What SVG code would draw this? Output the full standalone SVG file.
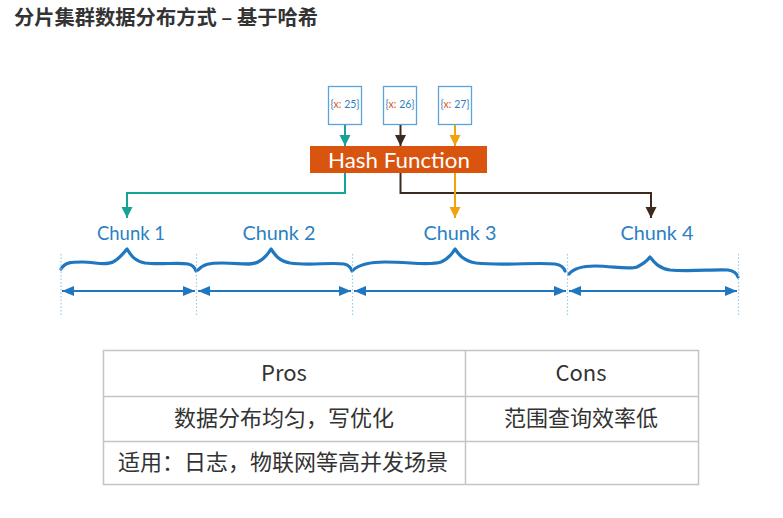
<svg xmlns="http://www.w3.org/2000/svg" width="783" height="518" viewBox="0 0 783 518">
<style>
.title{font-family:"Noto Sans CJK SC","Noto Sans",sans-serif;font-weight:bold;font-size:20px;fill:#333}
.val{font-family:"Lato","Open Sans",sans-serif;font-size:10.5px;fill:#2c7fc2;text-anchor:middle}
.vx{fill:#e2541c}
.vbox{fill:#fff;stroke:#5ba3dc;stroke-width:1.3}
.hash{fill:#d9540f}
.htxt{font-family:"Lato","Open Sans",sans-serif;font-size:22px;fill:#fff;text-anchor:middle}
.chunk{font-family:"Lato","Open Sans",sans-serif;font-size:19px;fill:#2c7fc2;text-anchor:middle}
.brace{fill:none;stroke:#1f77c0;stroke-width:3.2;stroke-linecap:round;stroke-linejoin:round}
.dot{stroke:#9cc8ea;stroke-width:1.2;stroke-dasharray:1.5 2}
.span{stroke:#1f77c0;stroke-width:2;fill:none}
.conn{fill:none;stroke-width:2}
.tbl{fill:none;stroke:#c4c4c4;stroke-width:1.5}
.tt{font-family:"Noto Sans CJK SC","Noto Sans",sans-serif;font-size:22px;fill:#333;text-anchor:middle}
</style>
<defs>
<marker id="aTeal" markerUnits="userSpaceOnUse" markerWidth="12" markerHeight="12" viewBox="0 0 12 12" refX="11" refY="6" orient="auto"><path d="M0,0.5 L11,6 L0,11.5 Z" fill="#17a398"/></marker>
<marker id="aBrown" markerUnits="userSpaceOnUse" markerWidth="12" markerHeight="12" viewBox="0 0 12 12" refX="11" refY="6" orient="auto"><path d="M0,0.5 L11,6 L0,11.5 Z" fill="#3d2a1e"/></marker>
<marker id="aOrange" markerUnits="userSpaceOnUse" markerWidth="12" markerHeight="12" viewBox="0 0 12 12" refX="11" refY="6" orient="auto"><path d="M0,0.5 L11,6 L0,11.5 Z" fill="#f0a30a"/></marker>
<marker id="aBlueE" markerUnits="userSpaceOnUse" markerWidth="12" markerHeight="12" viewBox="0 0 12 12" refX="12" refY="6" orient="auto"><path d="M0,1 L12,6 L0,11 Z" fill="#1f77c0"/></marker>
<marker id="aBlueS" markerUnits="userSpaceOnUse" markerWidth="12" markerHeight="12" viewBox="0 0 12 12" refX="0" refY="6" orient="auto"><path d="M12,1 L0,6 L12,11 Z" fill="#1f77c0"/></marker>
</defs>

<text class="title" x="14" y="25" textLength="304" lengthAdjust="spacingAndGlyphs">分片集群数据分布方式 – 基于哈希</text>

<g id="val25"><rect class="vbox" x="328.5" y="86.5" width="33" height="38"/><text class="val" x="345" y="107.5">{<tspan class="vx">x:</tspan> 25}</text></g>
<g id="val26"><rect class="vbox" x="383.5" y="86.5" width="33" height="38"/><text class="val" x="400" y="107.5">{<tspan class="vx">x:</tspan> 26}</text></g>
<g id="val27"><rect class="vbox" x="438.5" y="86.5" width="33" height="38"/><text class="val" x="455" y="107.5">{<tspan class="vx">x:</tspan> 27}</text></g>

<g id="hash"><rect class="hash" x="310" y="146" width="177" height="27"/><text class="htxt" x="399" y="167.5" textLength="142" lengthAdjust="spacingAndGlyphs">Hash Function</text></g>

<g id="connectors">
<path class="conn" stroke="#17a398" d="M345,125 V146" marker-end="url(#aTeal)"/>
<path class="conn" stroke="#3d2a1e" d="M400.5,125 V146" marker-end="url(#aBrown)"/>
<path class="conn" stroke="#f0a30a" d="M455,125 V146" marker-end="url(#aOrange)"/>
<path class="conn" stroke="#17a398" d="M345,173 V193 H127 V218" marker-end="url(#aTeal)"/>
<path class="conn" stroke="#3d2a1e" d="M400.5,173 V193 H651 V218" marker-end="url(#aBrown)"/>
<path class="conn" stroke="#f0a30a" d="M455,173 V218" marker-end="url(#aOrange)"/>
</g>

<g id="chunk1"><text class="chunk" x="131" y="240" textLength="68" lengthAdjust="spacingAndGlyphs">Chunk 1</text>
<path class="brace" d="M61,269 C65,262 72,262 82,262 C95,262 105,266 113,262 C119,259 123,254 127,249 C131,255 134,261 145,263 C160,265 178,262 188,264 C193,265 195,268 196,271"/></g>
<g id="chunk2"><text class="chunk" x="279" y="240" textLength="73" lengthAdjust="spacingAndGlyphs">Chunk 2</text>
<path class="brace" d="M198,270 C203,264 210,263 222,263 C240,263 250,266 258,262 C264,259 268,254 271,249 C275,255 279,261 290,263 C310,266 330,262 344,264 C349,265 351,268 352,271"/></g>
<g id="chunk3"><text class="chunk" x="460" y="240" textLength="73" lengthAdjust="spacingAndGlyphs">Chunk 3</text>
<path class="brace" d="M353,270 C360,264 370,262 385,262 C410,262 430,266 441,262 C448,259 452,254 455,249 C459,255 464,261 476,263 C505,266 535,262 555,264 C561,265 564,268 565,271"/></g>
<g id="chunk4"><text class="chunk" x="657" y="240" textLength="73" lengthAdjust="spacingAndGlyphs">Chunk 4</text>
<path class="brace" d="M569,274 C574,268 582,266 595,266 C612,266 628,270 637,267 C643,264 647,261 650,257 C654,262 658,268 670,270 C690,272 715,269 728,270 C734,271 737,274 738,277"/></g>

<g id="spans">
<line class="dot" x1="61" y1="254" x2="61" y2="316"/>
<line class="dot" x1="196.5" y1="254" x2="196.5" y2="316"/>
<line class="dot" x1="352.5" y1="254" x2="352.5" y2="316"/>
<line class="dot" x1="567.5" y1="254" x2="567.5" y2="316"/>
<line class="dot" x1="738.5" y1="254" x2="738.5" y2="316"/>
<line class="span" x1="62" y1="291" x2="195" y2="291" marker-start="url(#aBlueS)" marker-end="url(#aBlueE)"/>
<line class="span" x1="198" y1="291" x2="351" y2="291" marker-start="url(#aBlueS)" marker-end="url(#aBlueE)"/>
<line class="span" x1="354" y1="291" x2="566" y2="291" marker-start="url(#aBlueS)" marker-end="url(#aBlueE)"/>
<line class="span" x1="569" y1="291" x2="737" y2="291" marker-start="url(#aBlueS)" marker-end="url(#aBlueE)"/>
</g>

<g id="table">
<rect class="tbl" x="103.5" y="350.5" width="595" height="134"/>
<line class="tbl" x1="103.5" y1="396.5" x2="698.5" y2="396.5"/>
<line class="tbl" x1="103.5" y1="441.5" x2="698.5" y2="441.5"/>
<line class="tbl" x1="465.5" y1="350.5" x2="465.5" y2="484.5"/>
<text class="tt" x="284" y="381">Pros</text>
<text class="tt" x="581" y="381">Cons</text>
<text class="tt" x="284" y="426">数据分布均匀，写优化</text>
<text class="tt" x="581" y="426">范围查询效率低</text>
<text class="tt" x="283" y="470">适用：日志，物联网等高并发场景</text>
</g>
</svg>
